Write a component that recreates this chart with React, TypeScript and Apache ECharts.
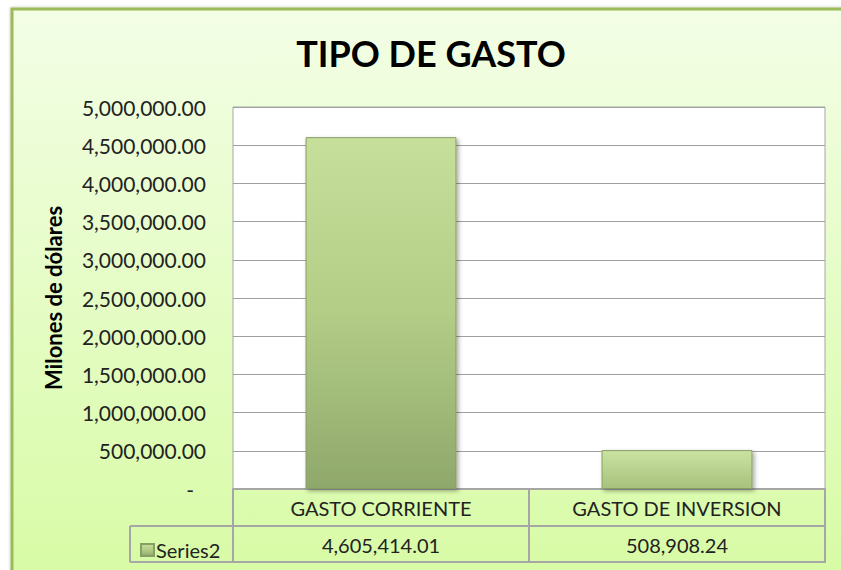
import React, { useEffect, useRef } from "react";
import * as echarts from "echarts";

const categories = ["GASTO CORRIENTE", "GASTO DE INVERSION"];
const seriesName = "Series2";
const values = [4605414.01, 508908.24];
const yMin = 0;
const yMax = 5000000;
const yInterval = 500000;
const titleText = "TIPO DE GASTO";
const yAxisTitle = "Milones de dólares";

const fmt = (v: number) =>
  v.toLocaleString("en-US", { minimumFractionDigits: 2, maximumFractionDigits: 2 });

const FONT = "Lato";
const GRID_L = 233;
const GRID_R = 825;
const GRID_T = 107;
const GRID_B = 489;
const ROW1 = 526;
const ROW2 = 562;
const LEG_L = 130;
const LINE = "#a6a6a6";

export default function App() {
  const ref = useRef<HTMLDivElement>(null);
  useEffect(() => {
    if (!ref.current) return;
    const chart = echarts.init(ref.current, undefined, { renderer: "svg" });
    const barGradients = [
      new echarts.graphic.LinearGradient(0, 0, 0, 1, [
        { offset: 0, color: "#c6e09b" },
        { offset: 0.5, color: "#b3cd87" },
        { offset: 1, color: "#8fa86b" },
      ]),
      new echarts.graphic.LinearGradient(0, 0, 0, 1, [
        { offset: 0, color: "#cae3a0" },
        { offset: 1, color: "#a8c27e" },
      ]),
    ];
    const option: any = {
      animation: false,
      title: {
        text: titleText,
        left: 426,
        top: 30,
        textAlign: "center",
        textStyle: { fontFamily: FONT, fontWeight: "bold", fontSize: 36, color: "#000" },
      },
      legend: {
        left: LEG_L + 5,
        top: ROW1 + 9,
        itemWidth: 13,
        itemHeight: 12,
        itemGap: 5,
        icon: "rect",
        data: [seriesName],
        textStyle: { fontFamily: FONT, fontSize: 20, color: "#222", padding: [0, 0, 0, -3] },
      },
      grid: {
        left: GRID_L,
        right: 841 - GRID_R,
        top: GRID_T,
        bottom: 570 - GRID_B,
        show: true,
        backgroundColor: "#ffffff",
        borderColor: LINE,
        borderWidth: 1,
        containLabel: false,
      },
      xAxis: [
        {
          type: "category",
          data: categories,
          position: "bottom",
          axisLine: { show: true, lineStyle: { color: LINE, width: 2 } },
          axisTick: { show: true, length: ROW2 - GRID_B, lineStyle: { color: LINE, width: 2 } },
          axisLabel: {
            margin: 9,
            fontFamily: FONT,
            fontSize: 20,
            color: "#222",
          },
        },
        {
          type: "category",
          data: categories,
          position: "bottom",
          offset: ROW1 - GRID_B,
          axisLine: { show: false },
          axisTick: { show: false },
          axisLabel: {
            margin: 9,
            fontFamily: FONT,
            fontSize: 20,
            color: "#222",
            formatter: (_v: string, i: number) => fmt(values[i]),
          },
        },
      ],
      yAxis: {
        type: "value",
        min: yMin,
        max: yMax,
        interval: yInterval,
        name: yAxisTitle,
        nameLocation: "middle",
        nameRotate: 90,
        nameGap: GRID_L - 64,
        nameTextStyle: { fontFamily: FONT, fontWeight: "bold", fontSize: 22, color: "#000" },
        axisLine: { show: false },
        axisTick: { show: false },
        splitLine: { show: true, lineStyle: { color: "#a0a0a0", width: 1 } },
        axisLabel: {
          margin: 27,
          fontFamily: FONT,
          fontSize: 21,
          color: "#222",
          formatter: (v: number) => (v === 0 ? "{z|-}" : fmt(v)),
          rich: { z: { fontFamily: FONT, fontSize: 21, color: "#222", padding: [0, 12, 0, 0] } },
        },
      },
      series: [
        {
          name: seriesName,
          type: "bar",
          xAxisIndex: 0,
          barWidth: "51%",
          data: values.map((v, i) => ({
            value: v,
            itemStyle: { color: barGradients[i] },
          })),
          itemStyle: {
            color: barGradients[0],
            borderColor: "#869f62",
            borderWidth: 1,
            shadowBlur: 4,
            shadowColor: "rgba(0,0,0,0.35)",
            shadowOffsetX: 2,
            shadowOffsetY: 2,
          },
        },
      ],
      graphic: [
        {
          type: "rect",
          z: -10,
          silent: true,
          shape: { x: 12, y: 9, width: 850, height: 580 },
          style: {
            fill: new echarts.graphic.LinearGradient(0, 0, 0, 1, [
              { offset: 0, color: "#f3fee6" },
              { offset: 1, color: "#d7fba4" },
            ]),
            stroke: "#9bbb59",
            lineWidth: 3,
            shadowBlur: 3,
            shadowColor: "rgba(0,0,0,0.25)",
          },
        },
        {
          type: "line",
          silent: true,
          z: 10,
          shape: { x1: LEG_L, y1: ROW1, x2: GRID_R, y2: ROW1 },
          style: { stroke: LINE, lineWidth: 2 },
        },
        {
          type: "line",
          silent: true,
          z: 10,
          shape: { x1: LEG_L, y1: ROW2, x2: GRID_R + 1, y2: ROW2 },
          style: { stroke: LINE, lineWidth: 2 },
        },
        {
          type: "line",
          silent: true,
          z: 10,
          shape: { x1: LEG_L, y1: ROW1, x2: LEG_L, y2: ROW2 },
          style: { stroke: LINE, lineWidth: 2 },
        },
      ],
    };
    chart.setOption(option);
    return () => chart.dispose();
  }, []);
  return (
    <div
      ref={ref}
      style={{ position: "absolute", left: 0, top: 0, width: 841, height: 570, background: "#fff" }}
    />
  );
}
